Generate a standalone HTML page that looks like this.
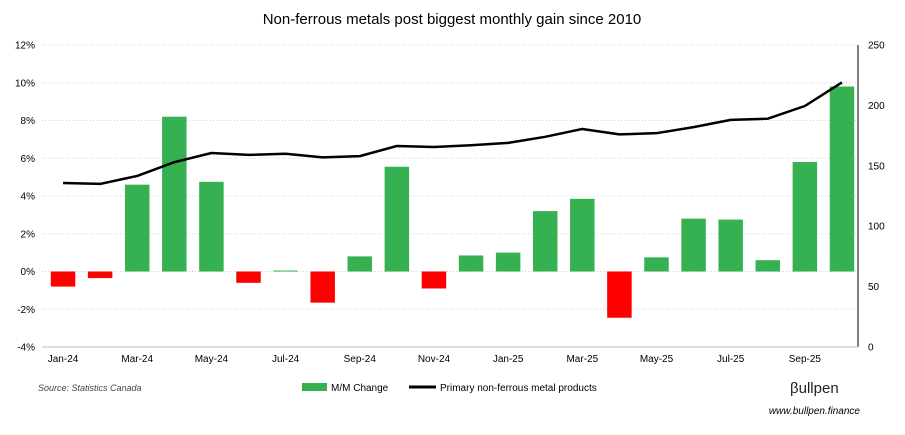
<!DOCTYPE html>
<html><head><meta charset="utf-8"><style>
body{margin:0;background:#fff;font-family:"Liberation Sans",sans-serif;}
svg text{font-family:"Liberation Sans",sans-serif;}
</style></head><body>
<svg id="chart" width="905" height="430" xmlns="http://www.w3.org/2000/svg">
<rect width="905" height="430" fill="#fff"/>
<text x="452" y="24" text-anchor="middle" font-size="15" fill="#000">Non-ferrous metals post biggest monthly gain since 2010</text>
<g id="grid"></g>
<g id="bars"></g>
<g id="line"></g>
<g id="axes"></g>
<text x="38" y="391" font-size="9" font-style="italic" fill="#444">Source: Statistics Canada</text>
<g>
<rect x="302" y="383" width="25" height="8" fill="#35b152"/>
<text x="331" y="391" font-size="10" fill="#000">M/M Change</text>
<line x1="409" y1="387" x2="436" y2="387" stroke="#000" stroke-width="3"/>
<text x="440" y="391" font-size="10" fill="#000">Primary non-ferrous metal products</text>
</g>
<text x="790" y="393" font-size="15" fill="#222">βullpen</text>
<text x="860" y="414" text-anchor="end" font-size="10" font-style="italic" fill="#000">www.bullpen.finance</text>
</svg>
<script>
const categories=["Jan-24","Feb-24","Mar-24","Apr-24","May-24","Jun-24","Jul-24","Aug-24","Sep-24","Oct-24","Nov-24","Dec-24","Jan-25","Feb-25","Mar-25","Apr-25","May-25","Jun-25","Jul-25","Aug-25","Sep-25","Oct-25"];
const mmChange=[-0.8,-0.35,4.6,8.2,4.75,-0.6,0.05,-1.65,0.8,5.55,-0.9,0.85,1.0,3.2,3.85,-2.45,0.75,2.8,2.75,0.6,5.8,9.8];
const indexValues=[135.8,135,141.6,153,160.6,159,160,157,158,166.4,165.6,167,169,174,180.5,176,177,182,188,189,199.5,219];
const leftTicks=[-4,-2,0,2,4,6,8,10,12];
const rightTicks=[0,50,100,150,200,250];
const NS="http://www.w3.org/2000/svg";
const X0=42,X1=858,Y0=45,Y1=347;
const bw=(X1-X0)/categories.length;
const yL=v=>Y1-(v+4)/16*(Y1-Y0);
const yR=v=>Y1-v/250*(Y1-Y0);
const xC=i=>X0+2.5+bw*(i+0.5);
function mk(tag,parent,attrs){const e=document.createElementNS(NS,tag);for(const k in attrs)e.setAttribute(k,attrs[k]);parent.appendChild(e);return e;}
const grid=document.getElementById('grid'),bars=document.getElementById('bars'),line=document.getElementById('line'),axes=document.getElementById('axes');
leftTicks.forEach(t=>{
 const g=mk('line',grid,{x1:X0,x2:X1,y1:yL(t),y2:yL(t),stroke:'#d0d0d0','stroke-dasharray':'1,2','stroke-width':1});
 
 
 const tx=mk('text',axes,{x:X0-7,y:yL(t)+3.5,'text-anchor':'end','font-size':10,fill:'#000'});tx.textContent=t+'%';
 
 
});
rightTicks.forEach(t=>{
 const tx=mk('text',axes,{x:X1+10,y:yR(t)+3.5,'font-size':10,fill:'#000'});tx.textContent=t;
 
 
});
mk('line',axes,{x1:X1,x2:X1,y1:Y0,y2:Y1,stroke:'#000','stroke-width':1});
mk('line',axes,{x1:X0,x2:X1,y1:Y1,y2:Y1,stroke:'#bbb','stroke-width':1});
mmChange.forEach((v,i)=>{
 const y=yL(Math.max(v,0)),h=Math.abs(yL(v)-yL(0));
 const r=mk('rect',bars,{x:xC(i)-bw*0.33,y:y,width:bw*0.66,height:Math.max(h,0.8),fill:v>=0?'#35b152':'#ff0000'});
 
 
});
categories.forEach((c,i)=>{if(i%2==0){
 const tx=mk('text',axes,{x:xC(i),y:Y1+15,'text-anchor':'middle','font-size':10,fill:'#000'});tx.textContent=c;
 
 
}});
const p=mk('polyline',line,{points:indexValues.map((v,i)=>xC(i)+','+yR(v)).join(' '),fill:'none',stroke:'#000','stroke-width':2.5,'stroke-linejoin':'round'});


</script>
</body></html>
